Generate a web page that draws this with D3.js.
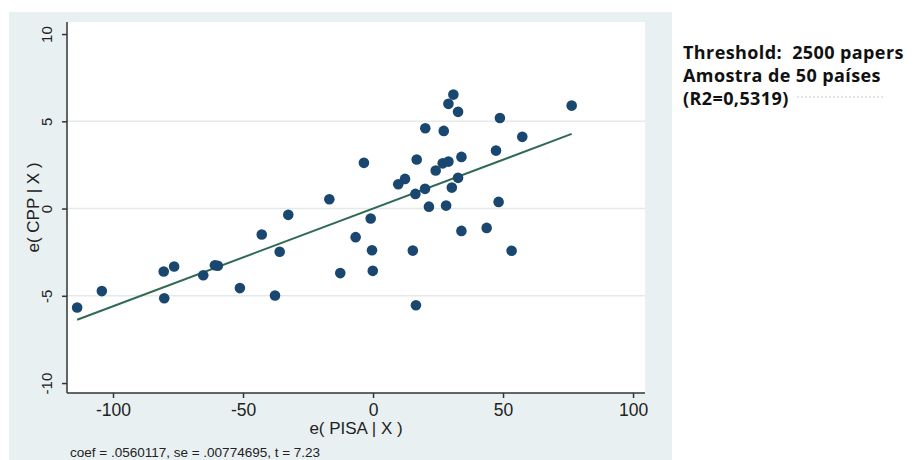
<!DOCTYPE html>
<html>
<head>
<meta charset="utf-8">
<script src="https://cdn.jsdelivr.net/npm/d3@7"></script>
<style>
  body { margin: 0; background: #fff; }
  svg { display: block; }
</style>
</head>
<body>
<svg id="chart" width="914" height="460"></svg>
<script>
// residuals
var pisa = [-113.8, -104.3, -80.5, -76.5, -80.3, -65.3, -60.8, -59.7, -51.2, -42.8,
            -35.9, -37.7, -32.6, -16.8, -3.5, 20.1, 16.8, 24.1, 9.7, 12.3,
            16.3, 20.0, 21.5, -0.9, -6.7, -0.4, 15.3, -12.6, -0.1, 16.5,
            30.9, 29.0, 32.7, 76.4, 48.8, 27.2, 57.4, 47.3, 34.0, 26.8,
            29.0, 32.7, 30.3, 28.1, 48.3, 34.0, 43.7, 53.3];
var cpp = [-5.67, -4.73, -3.61, -3.32, -5.14, -3.82, -3.25, -3.28, -4.56, -1.49,
           -2.48, -4.98, -0.36, 0.53, 2.62, 4.60, 2.81, 2.18, 1.39, 1.70,
           0.84, 1.13, 0.11, -0.57, -1.64, -2.39, -2.41, -3.70, -3.57, -5.54,
           6.53, 6.00, 5.54, 5.90, 5.19, 4.45, 4.11, 3.32, 2.96, 2.59,
           2.69, 1.76, 1.20, 0.17, 0.38, -1.28, -1.11, -2.42];
var xTicks = [-100, -50, 0, 50, 100];
var yTicks = [-10, -5, 0, 5, 10];
var coef = 0.0560117;
var footnote = "coef = .0560117, se = .00774695, t = 7.23";
var notes = ["Threshold:  2500 papers", "Amostra de 50 países", "(R2=0,5319)"];

var svg = d3.select("svg#chart");
var data = pisa.map((p, i) => ({ x: p, y: cpp[i] }));

// stata graph region
svg.append("rect")
    .attr("x", 9).attr("y", 12)
    .attr("width", 663).attr("height", 448)
    .attr("fill", "#e9f0f1");

var pLeft = 67, pRight = 645, pTop = 22, pBottom = 393;
svg.append("rect")
    .attr("x", pLeft).attr("y", pTop)
    .attr("width", pRight - pLeft).attr("height", pBottom - pTop)
    .attr("fill", "#fff");

var x = d3.scaleLinear().domain([-117.7, 104.6]).range([pLeft, pRight]);
var y = d3.scaleLinear().domain([-10.57, 10.69]).range([pBottom, pTop]);
var fmt = d => String(d);

// grid lines on the inner ticks
svg.append("g")
    .selectAll("line")
    .data(yTicks.filter(d => d > -10 && d < 10))
    .enter()
    .append("line")
    .attr("x1", pLeft).attr("x2", pRight)
    .attr("y1", d => y(d)).attr("y2", d => y(d))
    .attr("stroke", "#e4eaea")
    .attr("stroke-width", 1.5);

// axes
var yAxis = svg.append("g")
    .attr("transform", "translate(" + pLeft + ",0)")
    .call(d3.axisLeft(y).tickValues(yTicks).tickFormat(fmt).tickSize(5).tickSizeOuter(0));
yAxis.select(".domain").attr("d", "M0," + pTop + "V" + pBottom);
yAxis.selectAll("text")
    .attr("transform", "rotate(-90)")
    .attr("x", 0).attr("y", -15).attr("dy", 0)
    .attr("text-anchor", "middle")
    .style("font-family", "Liberation Sans, Arial, sans-serif")
    .style("font-size", "15px")
    .attr("fill", "#222");

var xAxis = svg.append("g")
    .attr("transform", "translate(0," + pBottom + ")")
    .call(d3.axisBottom(x).tickValues(xTicks).tickFormat(fmt).tickSize(5).tickSizeOuter(0));
xAxis.select(".domain").attr("d", "M" + pLeft + ",0H" + pRight);
xAxis.selectAll("text")
    .attr("y", 23).attr("dy", 0)
    .style("font-family", "Liberation Sans, Arial, sans-serif")
    .style("font-size", "17.5px")
    .attr("fill", "#222");
svg.selectAll(".domain, .tick line")
    .attr("stroke", "#333")
    .attr("stroke-width", 1.5);

// fitted line
var xr = d3.extent(pisa);
var line = d3.line()
    .x(d => x(d))
    .y(d => y(coef * d));
svg.append("path")
    .attr("d", line(xr))
    .attr("fill", "none")
    .attr("stroke", "#2f6b52")
    .attr("stroke-width", 2);

// points
svg.append("g")
    .selectAll("circle")
    .data(data)
    .enter()
    .append("circle")
    .attr("cx", d => x(d.x))
    .attr("cy", d => y(d.y))
    .attr("r", 5.3)
    .attr("fill", "#1a476f");

// axis titles
svg.append("text")
    .attr("transform", "translate(39," + ((pTop + pBottom) / 2) + ") rotate(-90)")
    .attr("text-anchor", "middle")
    .style("font-family", "Liberation Sans, Arial, sans-serif")
    .style("font-size", "17px")
    .attr("fill", "#222")
    .text("e( CPP | X )");

svg.append("text")
    .attr("x", (pLeft + pRight) / 2).attr("y", 434)
    .attr("text-anchor", "middle")
    .style("font-family", "Liberation Sans, Arial, sans-serif")
    .style("font-size", "17px")
    .attr("fill", "#222")
    .text("e( PISA | X )");

svg.append("text")
    .attr("x", 70).attr("y", 457)
    .style("font-family", "Liberation Sans, Arial, sans-serif")
    .style("font-size", "13.5px")
    .attr("fill", "#222")
    .text(footnote);

// side notes
svg.append("line")
    .attr("x1", 797).attr("x2", 883)
    .attr("y1", 97).attr("y2", 97)
    .attr("stroke", "#c8c8c8")
    .attr("stroke-dasharray", "2,2");

svg.append("g")
    .selectAll("text")
    .data(notes)
    .enter()
    .append("text")
    .attr("x", 683)
    .attr("y", (d, i) => 59 + i * 23)
    .attr("xml:space", "preserve")
    .style("white-space", "pre")
    .style("font-family", "Open Sans, sans-serif")
    .style("font-weight", "bold")
    .style("font-size", "18px")
    .style("letter-spacing", "0.4px")
    .attr("fill", "#111")
    .text(d => d);
</script>
</body>
</html>
